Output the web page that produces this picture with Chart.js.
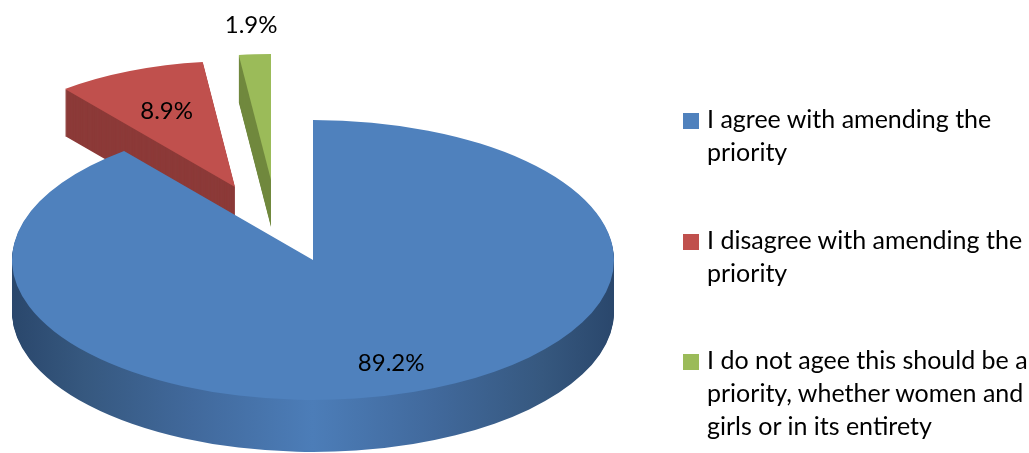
<!DOCTYPE html>
<html>
<head>
<meta charset="utf-8">
<script src="https://cdn.jsdelivr.net/npm/chart.js@4"></script>
<style>
  html, body { margin: 0; padding: 0; background: #fff; }
  #wrap { position: relative; width: 1029px; height: 453px; overflow: hidden; }
  #pie { position: absolute; left: 0; top: 0; }
  .item { position: absolute; left: 683px; width: 352px; font-family: Lato, "Open Sans", sans-serif;
          font-size: 25px; line-height: 33px; color: #000; }
  .item .box { position: absolute; left: 0; top: 11px; width: 16px; height: 16px; }
  .item .txt { margin-left: 24px; }
</style>
</head>
<body>
<div id="wrap">
  <canvas id="pie" width="1029" height="453"></canvas>
  <div id="legend"></div>
</div>
<script>
// answers and their share of responses (%)
const labels = [
  "I agree with amending the priority",
  "I disagree with amending the priority",
  "I do not agee this should be a priority, whether women and girls or in its entirety",
];
const values = [89.2, 8.9, 1.9];

const topColors = ["#4F81BD", "#C0504D", "#9BBB59"];
const sideColors = ["#3A6396", "#8C3A38", "#71893F"];

// look of the 3d pie
const tilt = 0.465;      // vertical squash of the disc
const depth = 52;        // thickness of the disc
const explodeX = [0, -78, -42];
const explodeY = [0, -73, -80];
const farScale = [1, 0.9, 0.9];   // pulled-out slices sit further back
const labelAt = [0.78, 0.65, 1.23];
const drawOrder = [1, 2, 0];

const slice3d = {
  id: "slice3d",
  beforeDatasetsDraw(chart) {
    const ctx = chart.ctx;
    const arcs = chart.getDatasetMeta(0).data;

    const drawArc = (arc, i, dy, fill) => {
      ctx.save();
      ctx.translate(explodeX[i], explodeY[i] + dy);
      ctx.translate(arc.x, arc.y);
      ctx.scale(farScale[i], tilt * farScale[i]);
      ctx.translate(-arc.x, -arc.y);
      const saved = arc.options;
      arc.options = Object.assign({}, saved, { backgroundColor: fill, borderWidth: 0, offset: 0 });
      arc.draw(ctx);
      arc.options = saved;
      ctx.restore();
    };

    for (const i of drawOrder) {
      const arc = arcs[i];
      let side = sideColors[i];
      if (i === 0) {
        // shaded rim of the big slice
        side = ctx.createLinearGradient(arc.x - arc.outerRadius, 0, arc.x + arc.outerRadius, 0);
        side.addColorStop(0, "#2A476C");
        side.addColorStop(0.12, "#36587F");
        side.addColorStop(0.3, "#41699C");
        side.addColorStop(0.5, "#4C7DB8");
        side.addColorStop(0.7, "#41699C");
        side.addColorStop(0.88, "#36587F");
        side.addColorStop(1, "#2A476C");
      }
      const d0 = Math.round(depth * farScale[i]);
      for (let d = d0; d >= 1; d--) drawArc(arc, i, d, side);
      drawArc(arc, i, 0, topColors[i]);
    }

    // value labels
    ctx.save();
    ctx.font = '24px Lato, "Open Sans", sans-serif';
    ctx.fillStyle = "#000";
    ctx.textAlign = "center";
    ctx.textBaseline = "middle";
    arcs.forEach((arc, i) => {
      const mid = (arc.startAngle + arc.endAngle) / 2;
      const r = arc.outerRadius * farScale[i] * labelAt[i];
      const x = arc.x + explodeX[i] + Math.cos(mid) * r;
      const y = arc.y + explodeY[i] + Math.sin(mid) * r * tilt;
      ctx.fillText(values[i].toFixed(1) + "%", x, y);
    });
    ctx.restore();
    return false;
  },
};

new Chart(document.getElementById("pie").getContext("2d"), {
  type: "pie",
  data: {
    labels: labels,
    datasets: [
      {
        data: values,
        backgroundColor: topColors,
        borderWidth: 0,
      },
    ],
  },
  options: {
    responsive: false,
    animation: false,
    radius: 301,
    rotation: 0,
    layout: { padding: { left: 0, right: 403, top: 67, bottom: 0 } },
    plugins: {
      legend: { display: false },
      tooltip: { enabled: false },
    },
  },
  plugins: [slice3d],
});

// legend on the right
const legend = document.getElementById("legend");
const legendTops = [102, 223, 343];
labels.forEach((text, i) => {
  const item = document.createElement("div");
  item.className = "item";
  item.style.top = legendTops[i] + "px";
  item.innerHTML = '<div class="box" style="background:' + topColors[i] + '"></div><div class="txt"></div>';
  item.querySelector(".txt").textContent = text;
  legend.appendChild(item);
});
</script>
</body>
</html>
